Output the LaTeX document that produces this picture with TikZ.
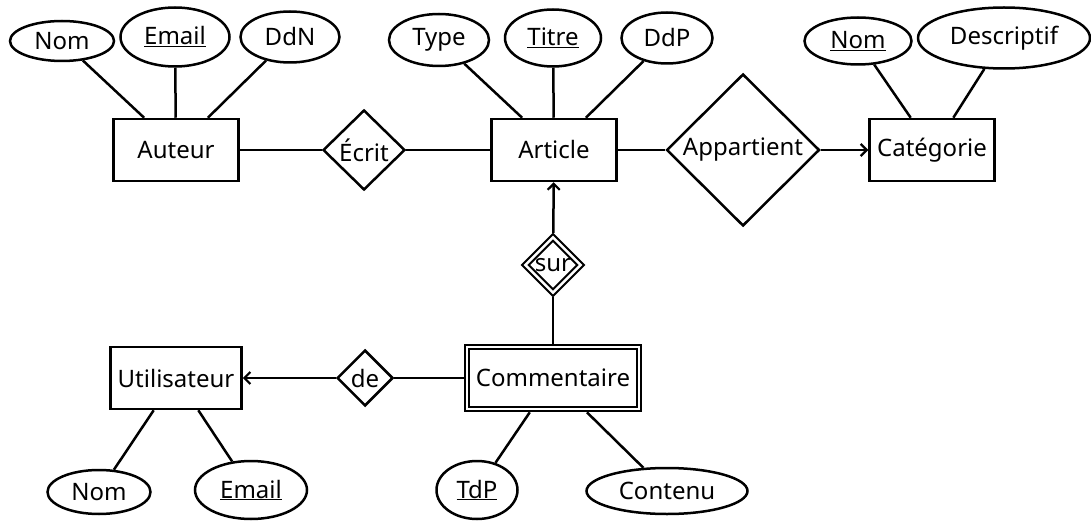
\documentclass[tikz,border=0pt]{standalone}
\usepackage{fontspec}
\setmainfont{Noto Sans}
\usetikzlibrary{shapes.geometric,arrows.meta,calc}
\begin{document}
\begin{tikzpicture}[x=1pt,y=-1pt,
  font=\fontsize{24}{28}\selectfont,
  every node/.style={line width=2.5pt, inner sep=0pt},
  ent/.style={draw, rectangle, minimum width=125pt, minimum height=62pt},
  attr/.style={draw, ellipse},
  rel/.style={draw, diamond},
  weak/.style={double, double distance=2.4pt, line width=2.1pt, outer sep=3.3pt},
  link/.style={line width=2.5pt},
  arr/.style={link, -{Straight Barb[length=6pt,width=12pt,line width=2.2pt]}}
]
\useasboundingbox (0,0) rectangle (1091,521);

% entities
\node[ent] (auteur) at (176,150) {Auteur};
\node[ent] (article) at (554,150) {Article};
\node[ent] (categorie) at (932,150) {Catégorie};
\node[ent, minimum width=131pt] (util) at (176,378) {Utilisateur};
\node[ent, weak, minimum width=172pt, minimum height=62pt] (comm) at (553,378) {Commentaire};

% relations
\node[rel, minimum width=82pt, minimum height=80pt, label=center:Écrit] (ecrit) at (364,150) {};
\node[rel, minimum width=153pt, minimum height=152pt, label=center:Appartient] (app) at (743,150) {};
\node[rel, minimum width=56pt, minimum height=56pt, label=center:de] (de) at (365,378) {};
\node[rel, weak, minimum width=58pt, minimum height=58pt, label=center:sur] (sur) at (553,265) {};

% attributes
\node[attr, minimum width=104pt, minimum height=40pt] (nomA) at (62,41) {Nom};
\node[attr, minimum width=109pt, minimum height=59pt] (emailA) at (175,37) {\underline{Email}};
\node[attr, minimum width=99pt, minimum height=51pt] (ddn) at (290,37) {DdN};
\node[attr, minimum width=100pt, minimum height=52pt] (type) at (439,40) {Type};
\node[attr, minimum width=96pt, minimum height=57pt] (titre) at (553,38) {\underline{Titre}};
\node[attr, minimum width=91pt, minimum height=51pt] (ddp) at (667,38) {DdP};
\node[attr, minimum width=107pt, minimum height=47pt] (nomC) at (858,41) {\underline{Nom}};
\node[attr, minimum width=172pt, minimum height=61pt] (desc) at (1004,38) {Descriptif};
\node[attr, minimum width=103pt, minimum height=44pt] (nomU) at (99,492) {Nom};
\node[attr, minimum width=112pt, minimum height=58pt] (emailU) at (251,490) {\underline{Email}};
\node[attr, minimum width=81pt, minimum height=58pt] (tdp) at (477,490) {\underline{TdP}};
\node[attr, minimum width=161pt, minimum height=46pt] (contenu) at (667,491) {Contenu};

% attribute links
\draw[link] (nomA) -- ($(auteur.north west)!0.25!(auteur.north east)$);
\draw[link] (emailA) -- (auteur);
\draw[link] (ddn) -- ($(auteur.north west)!0.75!(auteur.north east)$);
\draw[link] (type) -- ($(article.north west)!0.25!(article.north east)$);
\draw[link] (titre) -- (article);
\draw[link] (ddp) -- ($(article.north west)!0.75!(article.north east)$);
\draw[link] (nomC) -- ($(categorie.north west)!0.333!(categorie.north east)$);
\draw[link] (desc) -- ($(categorie.north west)!0.667!(categorie.north east)$);
\draw[link] (nomU) -- ($(util.south west)!0.333!(util.south east)$);
\draw[link] (emailU) -- ($(util.south west)!0.667!(util.south east)$);
\draw[link] (tdp) -- ($(comm.south west)!0.37!(comm.south east)$);
\draw[link] (contenu) -- ($(comm.south west)!0.69!(comm.south east)$);

% relation links
\draw[link] (auteur) -- (ecrit);
\draw[link] (ecrit) -- (article);
\draw[link] (article) -- (app);
\draw[arr] (app) -- (categorie);
\draw[arr] (sur) -- (article);
\draw[link] (sur) -- (comm);
\draw[arr] (de) -- (util);
\draw[link] (de) -- (comm);
\end{tikzpicture}
\end{document}
